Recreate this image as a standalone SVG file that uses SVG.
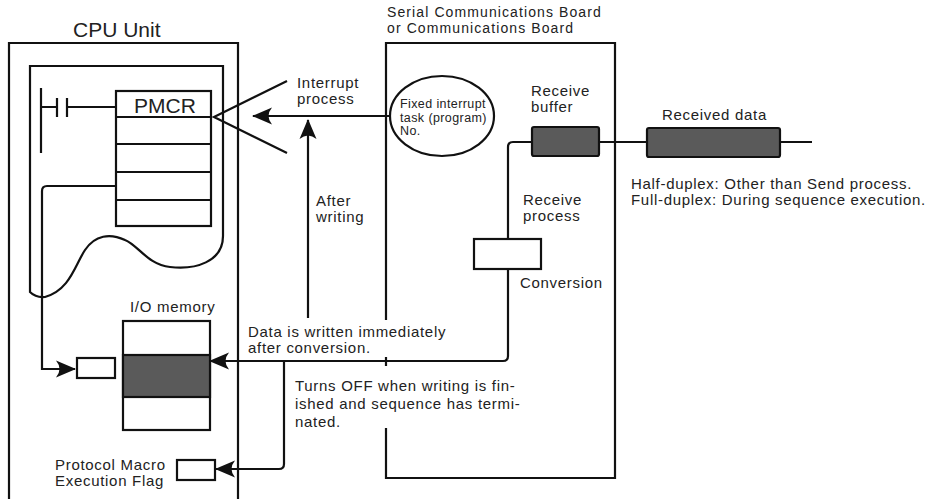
<svg xmlns="http://www.w3.org/2000/svg" width="926" height="499" viewBox="0 0 926 499">
<style>
text{font-family:"Liberation Sans",Arial,sans-serif;font-size:15px;letter-spacing:0.7px;fill:#222}
.s{font-size:12.5px;letter-spacing:0.4px}
.h{font-size:14px;letter-spacing:1.1px}
.big{font-size:21px;letter-spacing:0}
.b{fill:none;stroke:#111;stroke-width:2.2}
.w{fill:#fff;stroke:#111;stroke-width:2.2}
.d{fill:#5a5a5a;stroke:#111;stroke-width:2.2}
.c{fill:none;stroke:#111;stroke-width:2.2}
</style>
<defs>
<marker id="arr" viewBox="0 0 20 18" refX="19" refY="9" markerWidth="20" markerHeight="18" markerUnits="userSpaceOnUse" orient="auto">
<path d="M20,9 L0,0.5 Q7,9 0,17.5 Z" fill="#111"/>
</marker>
</defs>
<rect width="926" height="499" fill="#fff"/>

<g id="cpu-unit">
<path class="b" d="M9,499 V43 H238 V499"/>
<text class="big" x="73" y="37">CPU Unit</text>
</g>

<g id="program">
<path class="b" d="M30,292 V66 H223 V236 C223,262 195,270 170,267 C148,265 138,245 125,240 C110,233 95,235 85,250 C75,265 70,290 45,297 Q36,298 30,292 Z"/>
<path class="b" d="M41,88 V153 M41,107 H57 M57,98 V117 M67,98 V117 M67,107 H116"/>
</g>

<g id="pmcr">
<rect class="w" x="116" y="91" width="95" height="135"/>
<path class="b" d="M116,117 H211 M116,144 H211 M116,172 H211 M116,200 H211"/>
<text class="big" x="134" y="113">PMCR</text>
</g>

<g id="bit-box">
<rect class="w" x="77" y="358" width="38" height="20"/>
</g>

<g id="io-memory">
<rect class="w" x="123" y="321" width="87" height="109"/>
<rect class="d" x="123" y="355" width="87" height="42"/>
<text x="130" y="312">I/O memory</text>
</g>

<g id="flag">
<rect class="w" x="177" y="460" width="38" height="20"/>
<text x="55" y="470">Protocol Macro</text>
<text x="55" y="486">Execution Flag</text>
</g>

<g id="serial-board">
<path class="b" d="M386,320 V43 H615 V478 H386 V428 M386,357 V366"/>
<text class="h" x="387" y="17">Serial Communications Board</text>
<text class="h" x="387" y="33">or Communications Board</text>
</g>

<g id="interrupt-task">
<ellipse class="w" cx="442" cy="116" rx="52" ry="40"/>
<text class="s" x="400" y="108">Fixed interrupt</text>
<text class="s" x="400" y="122">task (program)</text>
<text class="s" x="400" y="135">No.</text>
</g>

<g id="receive-buffer">
<rect class="d" x="532" y="127" width="67" height="29" rx="2"/>
<text x="531" y="96">Receive</text>
<text x="531" y="112">buffer</text>
</g>

<g id="conversion">
<rect class="w" x="474" y="239" width="67" height="30"/>
<text x="520" y="288">Conversion</text>
</g>

<g id="received-data">
<rect class="d" x="647" y="128" width="133" height="29" rx="2"/>
<text x="662" y="120">Received data</text>
<text x="631" y="189">Half-duplex: Other than Send process.</text>
<text x="631" y="205">Full-duplex: During sequence execution.</text>
</g>

<g id="connectors">
<path class="c" d="M287,81 L214,117 L287,153"/>
<path class="c" d="M390,116 H253" marker-end="url(#arr)"/>
<path class="c" d="M308,318 V120" marker-end="url(#arr)"/>
<path class="c" d="M115,186 H47 Q42,186 42,191 V369 H75" marker-end="url(#arr)"/>
<path class="c" d="M532,142 H513 Q508,142 508,147 V239"/>
<path class="c" d="M508,269 V356 Q508,361 503,361 H210" marker-end="url(#arr)"/>
<path class="c" d="M284,361 V464 Q284,469 279,469 H216" marker-end="url(#arr)"/>
<path class="c" d="M599,142 H647 M780,142 H812"/>
</g>

<g id="labels">
<text x="297" y="88">Interrupt</text>
<text x="297" y="104">process</text>
<text x="316" y="206">After</text>
<text x="316" y="222">writing</text>
<text x="523" y="205">Receive</text>
<text x="523" y="221">process</text>
<text x="248" y="337">Data is written immediately</text>
<text x="248" y="353">after conversion.</text>
<text x="295" y="391">Turns OFF when writing is fin-</text>
<text x="295" y="409">ished and sequence has termi-</text>
<text x="295" y="427">nated.</text>
</g>
</svg>
